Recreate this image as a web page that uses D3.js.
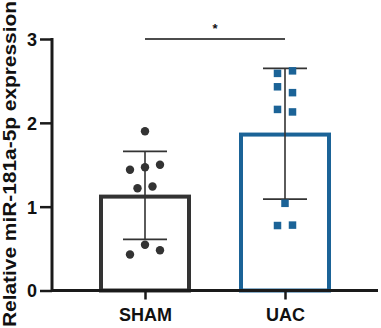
<!DOCTYPE html>
<html lang="en">
<head>
    <meta charset="UTF-8">
    <title>miR-181a-5p</title>
    <script src="https://d3js.org/d3.v7.min.js"></script>
    <style>
        body { margin: 0; background: #fff; }
        text { font-family: "Liberation Sans", Arial, sans-serif; font-weight: bold; fill: #111; }
    </style>
</head>
<body>
    <svg width="381" height="328" id="chart"></svg>
    <script>
        // data
        const groups = ["SHAM", "UAC"];
        const shamValues = [1.90, 1.44, 1.47, 1.50, 1.22, 1.24, 0.43, 0.545, 0.48];
        const uacValues = [2.59, 2.62, 2.43, 2.36, 2.16, 2.13, 1.04, 0.775, 0.78];
        const means = [1.12, 1.86];
        const errLow = [0.61, 1.09];
        const errHigh = [1.66, 2.65];
        // horizontal offset of each point inside its group (-1, 0, 1 columns)
        const shamCols = [0, -1, 0, 1, -0.5, 0.5, -1, 0, 1];
        const uacCols = [-0.5, 0.5, -0.5, 0.5, -0.5, 0.5, 0, -0.5, 0.5];
        const yTicks = [0, 1, 2, 3];
        const colors = ["#333333", "#1b6397"];

        const svg = d3.select('#chart');

        const x = d3.scalePoint()
            .domain(groups)
            .range([75, 355])
            .padding(0.5);

        const y = d3.scaleLinear()
            .domain([0, 3])
            .range([290.5, 39]);

        const barW = 88;
        const colStep = 15;

        // bars
        svg.selectAll('rect.bar')
            .data(groups)
            .enter()
            .append('rect')
            .attr('class', 'bar')
            .attr('x', d => x(d) - barW / 2)
            .attr('y', (d, i) => y(means[i]))
            .attr('width', barW)
            .attr('height', (d, i) => y(0) - y(means[i]))
            .attr('fill', 'none')
            .attr('stroke', (d, i) => colors[i])
            .attr('stroke-width', 4);

        // error bars
        const eb = svg.append('g')
            .attr('stroke', '#333')
            .attr('stroke-width', 1.6);
        groups.forEach((g, i) => {
            const cx = x(g);
            eb.append('line')
                .attr('x1', cx).attr('x2', cx)
                .attr('y1', y(errLow[i])).attr('y2', y(errHigh[i]));
            [errLow[i], errHigh[i]].forEach(v => {
                eb.append('line')
                    .attr('x1', cx - 22).attr('x2', cx + 22)
                    .attr('y1', y(v)).attr('y2', y(v));
            });
        });

        // points
        svg.append('g')
            .selectAll('circle')
            .data(shamValues)
            .enter()
            .append('circle')
            .attr('cx', (d, i) => x('SHAM') + shamCols[i] * colStep)
            .attr('cy', d => y(d))
            .attr('r', 4.2)
            .attr('fill', colors[0]);

        const sq = 7.5;
        svg.append('g')
            .selectAll('rect')
            .data(uacValues)
            .enter()
            .append('rect')
            .attr('x', (d, i) => x('UAC') + uacCols[i] * colStep - sq / 2)
            .attr('y', d => y(d) - sq / 2)
            .attr('width', sq)
            .attr('height', sq)
            .attr('fill', colors[1]);

        // axes
        const yAxis = svg.append('g')
            .attr('transform', 'translate(52,0)')
            .call(d3.axisLeft(y).tickValues(yTicks).tickFormat(d3.format('d'))
                .tickSize(12).tickPadding(3).tickSizeOuter(0));
        yAxis.select('.domain').attr('stroke', '#1a1a1a').attr('stroke-width', 3)
            .attr('d', `M0,${y(0) + 1.5}V${y(3) - 1}`);
        yAxis.selectAll('.tick line').attr('stroke', '#1a1a1a').attr('stroke-width', 2.5);
        yAxis.selectAll('.tick text').style('font-size', '18px').attr('dy', '0.36em');

        const xAxis = svg.append('g')
            .attr('transform', `translate(0,${y(0)})`)
            .call(d3.axisBottom(x).tickSize(9).tickPadding(9).tickSizeOuter(0));
        xAxis.select('.domain').attr('stroke', '#1a1a1a').attr('stroke-width', 3)
            .attr('d', 'M52,0H378');
        xAxis.selectAll('.tick line').attr('stroke', '#1a1a1a').attr('stroke-width', 2.5);
        xAxis.selectAll('.tick text').style('font-size', '18px');

        // y label
        svg.append('text')
            .attr('transform', 'translate(16,164) rotate(-90)')
            .attr('text-anchor', 'middle')
            .attr('textLength', 326)
            .attr('lengthAdjust', 'spacingAndGlyphs')
            .style('font-size', '18.5px')
            .text('Relative miR-181a-5p expression');

        // significance
        svg.append('line')
            .attr('x1', x('SHAM')).attr('x2', x('UAC'))
            .attr('y1', y(3)).attr('y2', y(3))
            .attr('stroke', '#111').attr('stroke-width', 1.5);
        svg.append('text')
            .attr('x', (x('SHAM') + x('UAC')) / 2)
            .attr('y', 33)
            .attr('text-anchor', 'middle')
            .style('font-size', '13px')
            .text('*');
    </script>
</body>
</html>
